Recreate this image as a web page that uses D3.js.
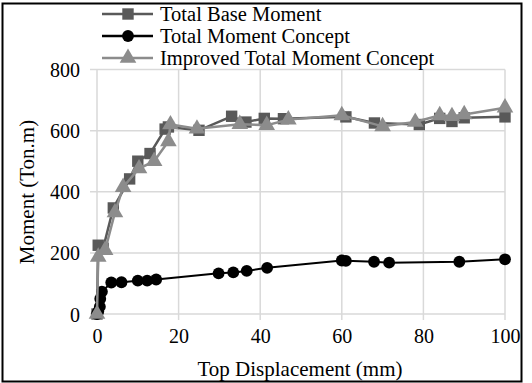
<!DOCTYPE html>
<html><head><meta charset="utf-8">
<script src="https://cdn.jsdelivr.net/npm/d3@7"></script>
<style>body{margin:0;background:#fff}svg{display:block}text{font-family:"Liberation Serif","Times New Roman",Times,serif;fill:#000}</style>
</head><body><svg id="c" width="532" height="383"></svg>
<script>
const seriesNames = ["Total Base Moment", "Total Moment Concept", "Improved Total Moment Concept"];
const baseMoment = [[0,0],[0.3,225],[1.5,215],[4,347],[8,442],[10,500],[13,525],[16.7,605],[17.5,612],[25,601],[33,647],[36.5,628],[41,640],[45.7,639],[61,645],[68,625],[79,620],[84,640],[87,630],[90,642],[100,645]];
const momentConcept = [[0,0],[0.3,8],[0.7,24],[0.8,50],[1.2,73],[3.5,103],[6,104],[10,109],[12.3,109],[14.5,113],[29.8,133],[33.4,136],[36.7,141],[41.7,151],[60,175],[61,174],[67.9,171],[71.6,168],[88.8,171],[100,179]];
const improvedConcept = [[0,0],[0.3,187],[2,209],[4.4,332],[6.4,415],[10.3,476],[14,500],[17.5,565],[18,620],[24.5,606],[35,621],[41.6,618],[46.9,636],[60,650],[70,614],[78,628],[84,650],[87,647],[90,653],[100,675]];
const xTicks = [0,20,40,60,80,100];
const yTicks = [0,200,400,600,800];
const xTitle = "Top Displacement (mm)";
const yTitle = "Moment (Ton.m)";

const svg = d3.select("#c");
const L=97, R=505, T=69.5, B=314;
const x = d3.scaleLinear().domain([0,100]).range([L,R]);
const y = d3.scaleLinear().domain([0,800]).range([B,T]);
const FF = "'Liberation Serif','Times New Roman',Times,serif";

svg.append("rect").attr("x",2.5).attr("y",3.5).attr("width",519).attr("height",378).attr("fill","#fff").attr("stroke","#000").attr("stroke-width",2);

const grid = svg.append("g");
grid.selectAll(".hy").data(yTicks).join("line").attr("x1",L-7).attr("x2",R).attr("y1",d=>y(d)).attr("y2",d=>y(d)).attr("stroke","#d9d9d9").attr("stroke-width",1.5);
grid.selectAll(".vx").data(xTicks).join("line").attr("x1",d=>x(d)).attr("x2",d=>x(d)).attr("y1",T).attr("y2",B+6).attr("stroke","#d9d9d9").attr("stroke-width",1.5);

const yAx = d3.axisLeft(y).tickValues(yTicks).tickSize(0).tickPadding(0);
const ga = svg.append("g").attr("transform",`translate(${L-17},0)`).call(yAx).attr("font-family",FF);
ga.select(".domain").remove();
ga.selectAll("text").attr("font-size",20).attr("font-family",FF).attr("fill","#000").attr("dy","0.35em");
const xAx = d3.axisBottom(x).tickValues(xTicks).tickSize(0).tickPadding(0);
const gx = svg.append("g").attr("transform",`translate(0,${B+15})`).call(xAx).attr("font-family",FF);
gx.select(".domain").remove();
gx.selectAll("text").attr("font-size",20).attr("font-family",FF).attr("fill","#000").attr("dy","0.71em");

svg.append("text").attr("x",300).attr("y",376).attr("text-anchor","middle").attr("font-size",21).text(xTitle);
svg.append("text").attr("transform","translate(34,192) rotate(-90)").attr("text-anchor","middle").attr("font-size",21).text(yTitle);

const line = d3.line().x(d=>x(d[0])).y(d=>y(d[1]));
const colors = ["#595959","#000000","#8c8c8c"];
const datas = [baseMoment, momentConcept, improvedConcept];
const sq = d3.symbol().type(d3.symbolSquare).size(130);
const ci = d3.symbol().type(d3.symbolCircle).size(110);
const tr = d3.symbol().type(d3.symbolTriangle).size(120);
const syms = [sq, ci, tr];
datas.forEach((data,i)=>{
  const g = svg.append("g");
  g.append("path").datum(data).attr("d",line).attr("fill","none").attr("stroke",colors[i]).attr("stroke-width",i===1?2:2.5);
  g.selectAll("path.m").data(data).join("path").attr("class","m").attr("d",syms[i]).attr("transform",d=>`translate(${x(d[0])},${y(d[1])})`).attr("fill",colors[i]);
});

const lg = svg.append("g");
const rows = [14,36,58];
seriesNames.forEach((n,i)=>{
  lg.append("line").attr("x1",102).attr("x2",153).attr("y1",rows[i]).attr("y2",rows[i]).attr("stroke",colors[i]).attr("stroke-width",2.5);
  lg.append("path").attr("d",syms[i]).attr("transform",`translate(128,${rows[i]})`).attr("fill",colors[i]);
  lg.append("text").attr("x",160).attr("y",rows[i]).attr("dy","0.35em").attr("font-size",20.5).text(n);
});
</script></body></html>
